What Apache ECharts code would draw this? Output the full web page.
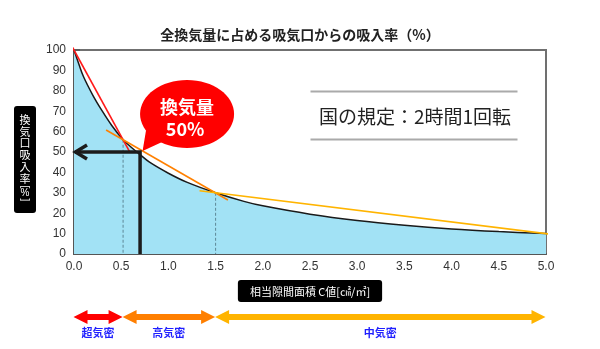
<!DOCTYPE html>
<html>
<head>
<meta charset="utf-8">
<script src="https://cdn.jsdelivr.net/npm/echarts@6/dist/echarts.min.js"></script>
<style>
  html, body { margin: 0; padding: 0; background: #fff; }
  #chart { width: 600px; height: 349px; }
</style>
</head>
<body>
<div id="chart"></div>
<script>
// Intake ratio of the air inlet vs. equivalent leakage area (C value)
const chartTitle = '全換気量に占める吸気口からの吸入率（%）';
const xName = '相当隙間面積 C値[㎠/㎡]';
const yNameChars = ['換', '気', '口', '吸', '入', '率'];
const ruleText = '国の規定：2時間1回転';

// intake curve
const rateX = [0, 0.05, 0.1, 0.2, 0.3, 0.4, 0.52, 0.6, 0.7, 0.8, 1.0, 1.2, 1.5, 1.8, 2.0, 2.5, 3.0, 3.5, 4.0, 4.5, 5.0];
const rateY = [100, 93.3, 87, 77.8, 70, 63, 56, 52.6, 48.7, 45, 39.6, 35.1, 30, 25.8, 23.6, 19.5, 16.4, 14.1, 12.3, 11, 10];

// chord lines between the zone boundary points
const redX = [-0.05, 0.59];
const redY = [104.2, 50.1];
const orangeX = [0.34, 1.63];
const orangeY = [60.8, 26.5];
const amberX = [1.33, 5.12];
const amberY = [31.0, 9.3];

// dashed drop lines at zone boundaries
const guideX = [0.52, 1.5];
const guideY = [56, 30];

// highlighted reading: C = 0.7 -> 50 %
const targetX = 0.7;
const targetY = 50;
const bubbleWord = '換気量';

// airtightness zones
const zoneNames = ['超気密', '高気密', '中気密'];
const zoneStart = [0, 0.52, 1.5];
const zoneEnd = [0.52, 1.5, 5.0];
const zoneColors = ['#ff0000', '#ff7f00', '#ffb400'];

const zip = (xs, ys) => xs.map((x, i) => [x, ys[i]]);
const jpFont = '"Noto Sans CJK JP", "Noto Sans", sans-serif';
const numFont = '"Liberation Sans", Arial, sans-serif';

const chart = echarts.init(document.getElementById('chart'), null, { renderer: 'canvas' });

function chordSeries(xs, ys, color) {
  return {
    type: 'line', data: zip(xs, ys), showSymbol: false, clip: false, z: 4,
    lineStyle: { color: color, width: 1.6 }, silent: true
  };
}

const option = {
  animation: false,
  backgroundColor: '#ffffff',
  title: {
    text: chartTitle, left: 'center', top: 23,
    textStyle: { fontFamily: jpFont, fontSize: 14, fontWeight: 'bold', color: '#222' }
  },
  grid: [
    { left: 74, right: 54, top: 50, bottom: 95, show: true, borderColor: '#707070', borderWidth: 2, backgroundColor: 'transparent' },
    { left: 74, right: 54, top: 306, height: 22 }
  ],
  xAxis: [
    {
      type: 'value', min: 0, max: 5, interval: 0.5,
      name: xName, nameLocation: 'middle', nameGap: 26,
      nameTextStyle: {
        fontFamily: jpFont, fontSize: 11, color: '#fff', backgroundColor: '#000',
        padding: [6, 12, 5, 12], borderRadius: 3
      },
      axisLine: { lineStyle: { color: '#555', width: 2 } },
      axisTick: { show: false },
      axisLabel: { formatter: v => v.toFixed(1), color: '#333', fontSize: 12, margin: 7, fontFamily: numFont },
      splitLine: { show: false }
    },
    { type: 'value', gridIndex: 1, min: 0, max: 5, show: false }
  ],
  yAxis: [
    {
      type: 'value', min: 0, max: 100, interval: 10,
      axisLine: { show: true, lineStyle: { color: '#555', width: 2 } },
      axisTick: { show: true, inside: true, length: 6, lineStyle: { color: '#555', width: 1.5 } },
      axisLabel: { color: '#333', fontSize: 12, margin: 8, fontFamily: numFont },
      splitLine: { show: false }
    },
    { type: 'value', gridIndex: 1, min: 0, max: 1, show: false }
  ],
  series: [
    {
      type: 'line', data: zip(rateX, rateY), smooth: 0.35,
      showSymbol: false, z: 2, silent: true,
      lineStyle: { color: '#1a1a1a', width: 1.5 },
      areaStyle: { color: '#a2e2f5', opacity: 1 }
    },
    {
      type: 'custom', z: 3, silent: true,
      data: zip(guideX, guideY),
      renderItem: (params, api) => {
        const top = api.coord([api.value(0), api.value(1)]);
        const bottom = api.coord([api.value(0), 0]);
        return {
          type: 'line',
          shape: { x1: top[0], y1: top[1], x2: bottom[0], y2: bottom[1] },
          style: { stroke: '#5d8797', lineWidth: 1, lineDash: [3, 2] }
        };
      }
    },
    chordSeries(redX, redY, '#ff1a1a'),
    chordSeries(orangeX, orangeY, '#ff8000'),
    chordSeries(amberX, amberY, '#ffb400'),
    {
      // reading arrow: up from the x axis, then left to the y axis
      type: 'custom', z: 5, silent: true,
      data: [[targetX, targetY]],
      renderItem: (params, api) => {
        const x = api.value(0), y = api.value(1);
        const base = api.coord([x, 0]);
        const corner = api.coord([x, y]);
        const end = api.coord([0, y]);
        return {
          type: 'group',
          children: [
            {
              type: 'polyline',
              shape: { points: [base, corner, [end[0] + 1, end[1]]] },
              style: { stroke: '#1c1c1c', lineWidth: 3.5, fill: null, lineJoin: 'miter' }
            },
            {
              type: 'polyline',
              shape: { points: [[end[0] + 13, end[1] - 7], [end[0] + 1.5, end[1]], [end[0] + 13, end[1] + 7]] },
              style: { stroke: '#1c1c1c', lineWidth: 3.5, fill: null, lineJoin: 'miter' }
            }
          ]
        };
      }
    },
    {
      // speech bubble pointing at the reading
      type: 'custom', z: 6, silent: true,
      data: [[targetX, targetY]],
      renderItem: (params, api) => {
        const p = api.coord([api.value(0), api.value(1)]);
        const cx = p[0] + 47, cy = p[1] - 38;
        return {
          type: 'group',
          children: [
            { type: 'ellipse', shape: { cx: cx, cy: cy, rx: 47, ry: 34 }, style: { fill: '#ff0000' } },
            {
              type: 'polygon',
              shape: { points: [[p[0] + 6, p[1] - 22], [p[0] + 2.5, p[1] - 1], [p[0] + 22, p[1] - 10]] },
              style: { fill: '#ff0000' }
            },
            {
              type: 'text',
              style: {
                text: bubbleWord, x: cx, y: cy - 6.5, align: 'center', verticalAlign: 'middle',
                fill: '#fff', font: 'bold 18px ' + jpFont
              }
            },
            {
              type: 'text',
              style: {
                text: api.value(1) + '%', x: cx - 2, y: cy + 15.5, align: 'center', verticalAlign: 'middle',
                fill: '#fff', font: 'bold 18px ' + jpFont
              }
            }
          ]
        };
      }
    },
    {
      // airtightness zone arrows with their names
      type: 'custom', xAxisIndex: 1, yAxisIndex: 1, z: 3, silent: true,
      data: zoneStart.map((s, i) => [s, zoneEnd[i], i]),
      renderItem: (params, api) => {
        const i = api.value(2);
        const a = api.coord([api.value(0), 0.5]);
        const b = api.coord([api.value(1), 0.5]);
        const x0 = a[0] - 0.5, x1 = b[0] - 0.5, y = a[1];
        const L = 14, H = 7, t = 3;
        return {
          type: 'group',
          children: [
            {
              type: 'polygon',
              shape: {
                points: [
                  [x0, y], [x0 + L, y - H], [x0 + L, y - t], [x1 - L, y - t], [x1 - L, y - H],
                  [x1, y], [x1 - L, y + H], [x1 - L, y + t], [x0 + L, y + t], [x0 + L, y + H]
                ]
              },
              style: { fill: zoneColors[i] }
            },
            {
              type: 'text',
              style: {
                text: zoneNames[i], x: (x0 + x1) / 2, y: y + 15.5, align: 'center', verticalAlign: 'middle',
                fill: '#1f1fff', font: 'bold 11px ' + jpFont
              }
            }
          ]
        };
      }
    }
  ],
  graphic: [
    {
      type: 'group', left: 14, top: 106,
      children: [
        { type: 'rect', shape: { x: 0, y: 0, width: 22, height: 107, r: 3 }, style: { fill: '#000' } },
        {
          type: 'text', x: 11, y: 8,
          style: {
            text: yNameChars.map(c => '{c|' + c + '}').join('\n'),
            align: 'center', verticalAlign: 'top', fill: '#fff',
            rich: { c: { fontFamily: jpFont, fontSize: 11, lineHeight: 11.7, fill: '#fff', align: 'center' } }
          }
        },
        {
          type: 'text', x: 11, y: 81, rotation: -Math.PI / 2,
          style: { text: '[', align: 'center', verticalAlign: 'middle', fill: '#fff', font: '10px ' + numFont }
        },
        {
          type: 'text', x: 11, y: 87.5,
          style: { text: '%', align: 'center', verticalAlign: 'middle', fill: '#fff', font: '10px ' + numFont }
        },
        {
          type: 'text', x: 11, y: 94, rotation: -Math.PI / 2,
          style: { text: ']', align: 'center', verticalAlign: 'middle', fill: '#fff', font: '10px ' + numFont }
        }
      ]
    },
    {
      type: 'group', left: 308, top: 89,
      children: [
        { type: 'line', shape: { x1: 0, y1: 1, x2: 207, y2: 1 }, style: { stroke: '#aaa', lineWidth: 2 } },
        {
          type: 'text', x: 104.5, y: 26,
          style: { text: ruleText, align: 'center', verticalAlign: 'middle', fill: '#222', font: '19px ' + jpFont }
        },
        { type: 'line', shape: { x1: 0, y1: 49, x2: 207, y2: 49 }, style: { stroke: '#aaa', lineWidth: 2 } }
      ]
    }
  ]
};

chart.setOption(option);
</script>
</body>
</html>
